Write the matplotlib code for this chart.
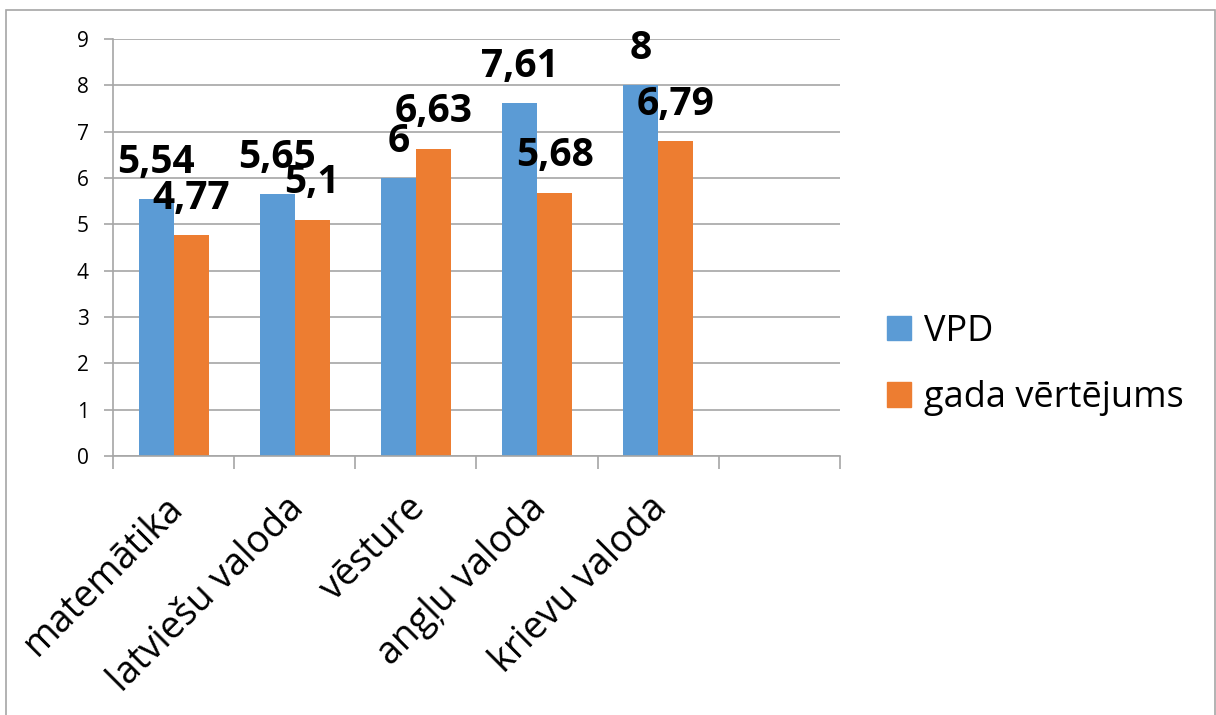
import matplotlib
matplotlib.use("Agg")
import matplotlib.pyplot as plt
import matplotlib.transforms as mtransforms
from matplotlib.patches import Rectangle, Patch
import numpy as np

categories = ["matemātika", "latviešu valoda", "vēsture", "angļu valoda", "krievu valoda", ""]
vpd = [5.54, 5.65, 6.0, 7.61, 8.0]
gada = [4.77, 5.1, 6.63, 5.68, 6.79]
series_names = ["VPD", "gada vērtējums"]

BLUE = "#5B9BD5"
ORANGE = "#ED7D31"
GRID = "#A6A6A6"

plt.rcParams["font.family"] = ["Open Sans", "DejaVu Sans"]

fig = plt.figure(figsize=(12.16, 7.15), dpi=100)
ax = fig.add_axes([113 / 1216, 1 - 456 / 715, (840 - 113) / 1216, (456 - 39) / 715])

w = 0.289
x = np.arange(len(vpd))
b1 = ax.bar(x - w / 2, vpd, w, color=BLUE, zorder=2)
b2 = ax.bar(x + w / 2, gada, w, color=ORANGE, zorder=2)


def fmt(v):
    return f"{v:g}".replace(".", ",")


for bars, vals in ((b1, vpd), (b2, gada)):
    for rect, v in zip(bars, vals):
        ax.annotate(fmt(v), (rect.get_x() + rect.get_width() / 2, v),
                    xytext=(0, 19), textcoords="offset points",
                    ha="center", va="baseline", fontsize=28, fontweight="bold",
                    color="black", zorder=5)

ax.set_xlim(-0.5, len(categories) - 0.5)
ax.set_ylim(0, 9)
ax.set_yticks(range(0, 10))
ax.yaxis.grid(True, color=GRID, linewidth=1.2, zorder=0)
ax.tick_params(axis="y", length=6.5, width=1.2, color=GRID, pad=11, labelsize=15)

ax.set_xticks(range(len(categories)))
ax.set_xticklabels(categories, rotation=45, ha="right", rotation_mode="anchor", fontsize=27)
ax.tick_params(axis="x", which="major", length=0, pad=24)
ax.set_xticks(np.arange(-0.5, len(categories), 1.0), minor=True)
ax.tick_params(axis="x", which="minor", length=9.5, width=1.2, color=GRID, direction="out")

offset = mtransforms.ScaledTranslation(-10 / 100, 0, fig.dpi_scale_trans)
for lab in ax.get_xticklabels():
    lab.set_transform(lab.get_transform() + offset)

for side in ("top", "right"):
    ax.spines[side].set_visible(False)
for side in ("left", "bottom"):
    ax.spines[side].set_color(GRID)
    ax.spines[side].set_linewidth(1.2)

handles = [Patch(color=BLUE), Patch(color=ORANGE)]
fig.legend(handles, series_names, loc="center left", bbox_to_anchor=(887 / 1216, 1 - 365 / 715),
           frameon=False, fontsize=26, handlelength=0.67, handleheight=0.67,
           handletextpad=0.35, labelspacing=0.85, borderpad=0, borderaxespad=0)

fig.patches.append(Rectangle((6 / 1216, -10 / 715), 1209 / 1216, 715 / 715, transform=fig.transFigure,
                             fill=False, edgecolor=GRID, linewidth=1.2))

fig.savefig("out.png", dpi=100)
